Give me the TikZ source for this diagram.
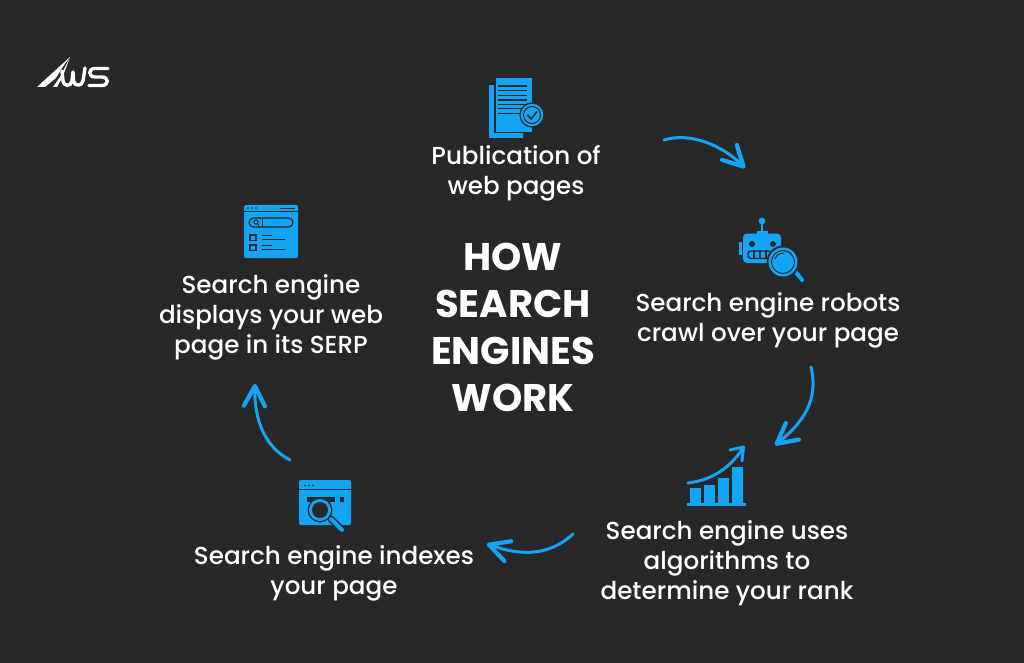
\documentclass[tikz,border=0pt]{standalone}
\usepackage{fontspec}
\setmainfont{Poppins}[UprightFont=*-Medium,BoldFont=*-Bold]
\usetikzlibrary{arrows.meta}
\definecolor{bg}{HTML}{282828}
\definecolor{sky}{HTML}{12A5F5}
\pgfdeclarearrow{
  name=Chev,
  setup code={\pgfarrowssetbackend{-20pt}\pgfarrowssettipend{2pt}\pgfarrowssetlineend{-2pt}\pgfarrowssetvisualbackend{-20pt}},
  drawing code={
    \pgfsetlinewidth{4.2pt}\pgfsetroundcap\pgfsetroundjoin
    \pgfpathmoveto{\pgfpoint{-20pt}{10.5pt}}
    \pgfpathlineto{\pgfpointorigin}
    \pgfpathlineto{\pgfpoint{-20pt}{-10.5pt}}
    \pgfusepathqstroke}
}
\tikzset{
  label/.style={text=white,align=center,font=\fontsize{24.6}{30}\selectfont,inner sep=0pt},
  headline/.style={text=white,align=center,font=\fontsize{38.5}{47}\selectfont\bfseries,inner sep=0pt},
  flow/.style={draw=sky,line width=3pt,line cap=round,-{Chev[quick]}},
  logo/.style={draw=white,line width=3.4pt,line join=round,line cap=round}
}
\begin{document}
\begin{tikzpicture}[x=1pt,y=-1pt]
\useasboundingbox (0,0) rectangle (1024,663);
\fill[bg] (0,0) rectangle (1024,663);

% logo
\fill[white] (70,57) -- (37,87) -- (45,87) -- (56,78) -- (62,68) -- cycle;
\fill[white] (70,57) -- (60,77) -- (53,87) -- (57,87) -- (63,76) -- cycle;
\draw[logo] (62,71) -- (63,81) .. controls (63.5,86.5) and (71,87) .. (72,81) -- (73,72) -- (73.5,81) .. controls (74,86.5) and (82,86.5) .. (83,81) -- (85,68);
\draw[logo] (108,68.5) -- (95,68.5) .. controls (88,68.5) and (88,77) .. (95,77) -- (102,77) .. controls (109,77) and (109,85.5) .. (102,85.5) -- (89,85.5);

% icon 1: document
\fill[sky] (489,85) rectangle (523,138);
\fill[bg] (494,79) rectangle (533,133.5);
\fill[sky] (495.5,78.5) rectangle (532,132);
\foreach \yy in {86,90.7,95.3,100,104.4,108.8,113.3} \draw[bg,line width=1.3pt] (498,\yy) -- (527,\yy);
\fill[sky,draw=bg,line width=1.2pt] (532,115) circle (12);
\draw[bg,line width=1pt] (532,115) circle (8.5);
\draw[bg,line width=1.6pt] (527.5,115) -- (531,119) -- (537,111.5);

% icon 2: robot
\fill[sky] (739,242) rectangle (742,255);
\fill[sky] (762,221) circle (3.4);
\fill[sky] (761,221) rectangle (763,232);
\fill[sky] (756.5,231) rectangle (767.5,234);
\fill[sky,rounded corners=4pt] (743,233.5) rectangle (781,263);
\fill[bg] (752,244) circle (3);
\fill[bg] (773,244) circle (3);
\draw[bg,line width=1.3pt,rounded corners=3pt] (748,251) rectangle (772,258.5);
\foreach \xx in {754,760,766} \draw[bg,line width=1.3pt] (\xx,251) -- (\xx,258.5);
\draw[bg,line width=6pt,line cap=round] (795,271) -- (802,280);
\draw[sky,line width=4pt,line cap=round] (795,271) -- (802,280);
\fill[bg] (783,262) circle (16.5);
\fill[sky] (783,262) circle (14.5);
\draw[bg,line width=1pt] (783,262) circle (11.5);
\draw[bg,line width=1pt] (775,259) .. controls (776,255) and (780,253) .. (784,253);

% icon 3: chart
\fill[sky] (690,488) rectangle (701,503);
\fill[sky] (704,485) rectangle (715,503);
\fill[sky] (718,478) rectangle (729,503);
\fill[sky] (732,467) rectangle (743,503);
\fill[sky] (687,503) rectangle (746,505.5);
\draw[sky,line width=3pt,line cap=round] (688,483) .. controls (712,480) and (730,468) .. (743,448);
\draw[sky,line width=3pt,line cap=round,line join=round] (730,450) -- (743.5,447) -- (742,461);

% icon 4: indexes
\fill[sky,rounded corners=2pt] (299,480) rectangle (351,525);
\draw[bg,line width=1pt] (299,489) -- (351,489);
\foreach \xx in {305,309,313} \fill[bg] (\xx,485.5) circle (0.9);
\fill[bg] (307,497) rectangle (335,502);
\fill[bg] (340,497) rectangle (344,502);
\draw[bg,line width=7pt,line cap=round] (331,519) -- (342,530);
\draw[sky,line width=4pt,line cap=round] (331,519) -- (342,530);
\fill[bg] (320,510) circle (12.5);
\fill[sky] (320,510) circle (11);
\fill[bg] (320,510) circle (8);

% icon 5: SERP
\fill[sky,rounded corners=2pt] (244,205) rectangle (298,258);
\draw[bg,line width=1pt] (244,211) -- (298,211);
\foreach \xx in {248,252,256} \fill[bg] (\xx,208) circle (0.9);
\draw[bg,line width=1pt] (280,208) -- (295,208);
\draw[bg,line width=1.2pt,rounded corners=4.5pt] (249,218) rectangle (293,227);
\draw[bg,line width=1pt] (256,222) circle (2.2);
\draw[bg,line width=1pt] (257.5,224) -- (259,225.5);
\draw[bg,line width=1pt] (262,219) -- (262,226);
\draw[bg,line width=1.2pt] (250,235) rectangle (256,240.5);
\draw[bg,line width=1.2pt] (250,245) rectangle (256,250.5);
\draw[bg,line width=1pt] (262,235.5) -- (272,235.5);
\draw[bg,line width=1pt] (262,239.5) -- (285,239.5);
\draw[bg,line width=1pt] (262,245.5) -- (272,245.5);
\draw[bg,line width=1pt] (262,249.5) -- (285,249.5);

% texts
\node[headline] (title) at (513,327) {HOW\\SEARCH\\ENGINES\\WORK};
\node[label] (publish) at (516,173.5) {Publication of\\web pages};
\node[label] (crawl) at (768,320.5) {Search engine robots\\crawl over your page};
\node[label] (rank) at (727,563) {Search engine uses\\algorithms to\\determine your rank};
\node[label] (index) at (334,573.5) {Search engine indexes\\your page};
\node[label] (serp) at (271,317.5) {Search engine\\displays your web\\page in its SERP};

% connectors
\coordinate (a1) at (664,140); \coordinate (b1) at (745,168);
\coordinate (a2) at (811,367); \coordinate (b2) at (775,445);
\coordinate (a3) at (573,534); \coordinate (b3) at (487,544);
\coordinate (a4) at (290,460); \coordinate (b4) at (255,384);
\draw[flow] (a1) .. controls (690,132) and (722,145) .. (b1);
\draw[flow] (a2) .. controls (819,400) and (803,423) .. (b2);
\draw[flow] (a3) .. controls (545,560) and (513,553) .. (b3);
\draw[flow] (a4) .. controls (265,447) and (254,420) .. (b4);
\end{tikzpicture}
\end{document}
